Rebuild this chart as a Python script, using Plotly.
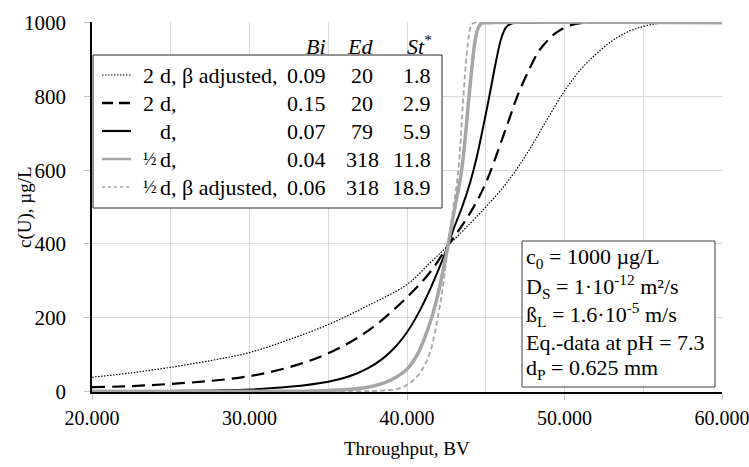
import plotly.graph_objects as go

# ---------------- data ----------------
x_2d_beta = [20000, 22500, 25000, 27500, 30000, 32500, 35000, 37500, 40000, 41500, 42600,
             44000, 45000, 46000, 47000, 48000, 49000, 50000, 51000, 52000, 53000, 54000,
             55000, 56000, 57000, 60000]
c_2d_beta = [38, 50, 65, 83, 105, 140, 181, 232, 290, 350, 395,
             455, 500, 548, 605, 672, 745, 815, 872, 915, 950, 975,
             990, 998, 1000, 1000]

x_2d = [20000, 22500, 25000, 27500, 30000, 32500, 35000, 37500, 40000, 41500, 42600, 43500,
        44300, 45000, 45800, 46500, 47000, 47700, 48400, 49000, 49500, 50300, 51200, 60000]
c_2d = [11, 14, 20, 28, 41, 65, 103, 163, 255, 325, 395, 450,
        505, 565, 655, 740, 800, 868, 925, 955, 974, 992, 1000, 1000]

x_d = [20000, 25000, 30000, 32500, 35000, 36300, 37500, 38500, 39300, 40000, 40700, 41500,
       42600, 43000, 43500, 44000, 44400, 44850, 45270, 45650, 46000, 46300, 46650, 47100, 60000]
c_d = [0, 1, 5, 12, 26, 40, 62, 90, 122, 160, 210, 280,
       395, 445, 500, 565, 630, 720, 810, 895, 960, 988, 998, 1000, 1000]

x_half_d = [20000, 34000, 36000, 37500, 38500, 39300, 40000, 40720, 41570, 42000, 42600, 43000,
            43470, 43940, 44150, 44320, 44500, 44700, 45000, 60000]
c_half_d = [0, 1, 4, 11, 22, 38, 60, 105, 200, 270, 395, 490,
            600, 800, 890, 950, 984, 998, 1000, 1000]

x_half_d_beta = [20000, 37000, 38500, 39240, 39870, 40400, 40830, 41460, 41950, 42300, 42600,
                 42950, 43260, 43580, 43790, 43950, 44110, 44300, 60000]
c_half_d_beta = [0, 0, 2, 5, 14, 30, 50, 105, 200, 290, 395,
                 500, 600, 800, 915, 970, 995, 1000, 1000]

label_prefix = ["2", "2", "", "½", "½"]
label_rest = ["d, β adjusted,", "d,", "d,", "d,", "d, β adjusted,"]
bi_values = ["0.09", "0.15", "0.07", "0.04", "0.06"]
ed_values = ["20", "20", "79", "318", "318"]
st_values = ["1.8", "2.9", "5.9", "11.8", "18.9"]

x_tick_vals = [20000, 30000, 40000, 50000, 60000]
x_tick_text = ["20.000", "30.000", "40.000", "50.000", "60.000"]
y_tick_vals = [0, 200, 400, 600, 800, 1000]
y_tick_text = ["0", "200", "400", "600", "800", "1000"]

info_lines = [
    "c<sub>0</sub> = 1000 µg/L",
    "D<sub>S</sub> = 1·10<sup>-12</sup> m²/s",
    "ß<sub>L</sub> = 1.6·10<sup>-5</sup> m/s",
    "Eq.-data at pH = 7.3",
    "d<sub>P</sub> = 0.625 mm",
]

# ---------------- styles ----------------
GRAY = "#a6a6a6"
styles = [
    dict(color="black", width=1.2, dash="1.5px,1.5px"),
    dict(color="black", width=2.2, dash="13px,7px"),
    dict(color="black", width=2.0, dash="solid"),
    dict(color=GRAY, width=3.5, dash="solid"),
    dict(color=GRAY, width=1.8, dash="5px,3px"),
]
legend_styles = [
    dict(color="black", width=1.2, dash="1.5px,1.5px"),
    dict(color="black", width=2.5, dash="11px,6px"),
    dict(color="black", width=2.2, dash="solid"),
    dict(color=GRAY, width=2.5, dash="solid"),
    dict(color=GRAY, width=1.5, dash="3px,3px"),
]
series = [(x_2d_beta, c_2d_beta), (x_2d, c_2d), (x_d, c_d),
          (x_half_d, c_half_d), (x_half_d_beta, c_half_d_beta)]

FONT = "Liberation Serif, Times New Roman, serif"
TXT = 22
W_FIG, H_FIG = 749, 467
L, T, PW, PH = 92, 22, 630, 370


def px(x):
    return (x - L) / PW


def py(y):
    return (T + PH - y) / PH


fig = go.Figure()
for (xs, cs), st in zip(series, styles):
    fig.add_trace(go.Scatter(x=xs, y=cs, mode="lines",
                             line=dict(color=st["color"], width=st["width"], dash=st["dash"],
                                       shape="spline", smoothing=1.0),
                             showlegend=False, hoverinfo="skip"))

shapes = []
annotations = []

# legend box
shapes.append(dict(type="rect", xref="paper", yref="paper",
                   x0=px(93), x1=px(442), y0=py(208), y1=py(55),
                   fillcolor="white", line=dict(color="#262626", width=1), layer="above"))
row_y = [75, 103, 131, 159, 187]
for i, ry in enumerate(row_y):
    ls = legend_styles[i]
    shapes.append(dict(type="line", xref="paper", yref="paper",
                       x0=px(102), x1=px(131), y0=py(ry), y1=py(ry),
                       line=dict(color=ls["color"], width=ls["width"], dash=ls["dash"]),
                       layer="above"))
    common = dict(xref="paper", yref="paper", showarrow=False, yanchor="middle")
    if label_prefix[i]:
        pre_size = 18 if label_prefix[i] == "½" else TXT
        annotations.append(dict(x=px(141), y=py(ry), text=label_prefix[i], xanchor="left",
                                font=dict(family=FONT, size=pre_size, color="black"), **common))
    annotations.append(dict(x=px(158), y=py(ry), text=label_rest[i], xanchor="left",
                            font=dict(family=FONT, size=TXT, color="black"), **common))
    annotations.append(dict(x=px(328), y=py(ry), text=bi_values[i], xanchor="right",
                            font=dict(family=FONT, size=TXT, color="black"), **common))
    annotations.append(dict(x=px(362), y=py(ry), text=ed_values[i], xanchor="center",
                            font=dict(family=FONT, size=TXT, color="black"), **common))
    annotations.append(dict(x=px(433), y=py(ry), text=st_values[i], xanchor="right",
                            font=dict(family=FONT, size=TXT, color="black"), **common))

hdr = dict(xref="paper", yref="paper", showarrow=False, yanchor="middle",
           font=dict(family=FONT, size=TXT, color="black"))
annotations.append(dict(x=px(328), y=py(46), text="<i>Bi</i>", xanchor="right", **hdr))
annotations.append(dict(x=px(360), y=py(46), text="<i>Ed</i>", xanchor="center", **hdr))
annotations.append(dict(x=px(434), y=py(45), text="<i>St</i><sup>*</sup>", xanchor="right", **hdr))

# info box
shapes.append(dict(type="rect", xref="paper", yref="paper",
                   x0=px(522), x1=px(715), y0=py(387), y1=py(241),
                   fillcolor="white", line=dict(color="#404040", width=1), layer="above"))
info_y = [258, 286, 314, 342, 369]
for t, yy in zip(info_lines, info_y):
    annotations.append(dict(x=px(524), y=py(yy), text=t, xanchor="left", yanchor="middle",
                            xref="paper", yref="paper", showarrow=False,
                            font=dict(family=FONT, size=TXT, color="black")))

# axis titles
annotations.append(dict(x=px(407), y=py(448), text="Throughput, BV", xanchor="center",
                        yanchor="middle", xref="paper", yref="paper", showarrow=False,
                        font=dict(family=FONT, size=19, color="black")))
annotations.append(dict(x=px(25), y=py(207), text="c(U), µg/L", textangle=-90,
                        xanchor="center", yanchor="middle", xref="paper", yref="paper",
                        showarrow=False, font=dict(family=FONT, size=19, color="black")))

fig.update_layout(
    width=W_FIG, height=H_FIG,
    margin=dict(l=L, r=W_FIG - L - PW, t=T, b=H_FIG - T - PH, pad=0, autoexpand=False),
    paper_bgcolor="white", plot_bgcolor="white",
    font=dict(family=FONT, size=20, color="black"),
    shapes=shapes, annotations=annotations, showlegend=False,
)
fig.update_xaxes(range=[20000, 60000], tickvals=x_tick_vals, ticktext=x_tick_text,
                 showgrid=True, gridcolor="#d9d9d9", gridwidth=1,
                 minor=dict(dtick=5000, tick0=20000, showgrid=True, gridcolor="#d9d9d9",
                            gridwidth=1, ticks=""),
                 ticks="outside", ticklen=6, tickcolor="#bfbfbf",
                 showline=True, linecolor="black", linewidth=1.5,
                 zeroline=False, ticklabelstandoff=1, automargin=False,
                 ticklabeloverflow="allow",
                 tickfont=dict(family=FONT, size=20, color="black"))
fig.update_yaxes(range=[-2, 1002], tickvals=y_tick_vals, ticktext=y_tick_text,
                 showgrid=True, gridcolor="#d9d9d9", gridwidth=1,
                 ticks="outside", ticklen=6, tickcolor="#bfbfbf",
                 showline=True, linecolor="black", linewidth=1.5,
                 zeroline=False, ticklabelstandoff=14, automargin=False,
                 ticklabeloverflow="allow",
                 tickfont=dict(family=FONT, size=21, color="black"))

fig.write_html("out.html", config={"displayModeBar": False},
               post_script="document.body.style.margin='0';document.body.style.padding='0';")
